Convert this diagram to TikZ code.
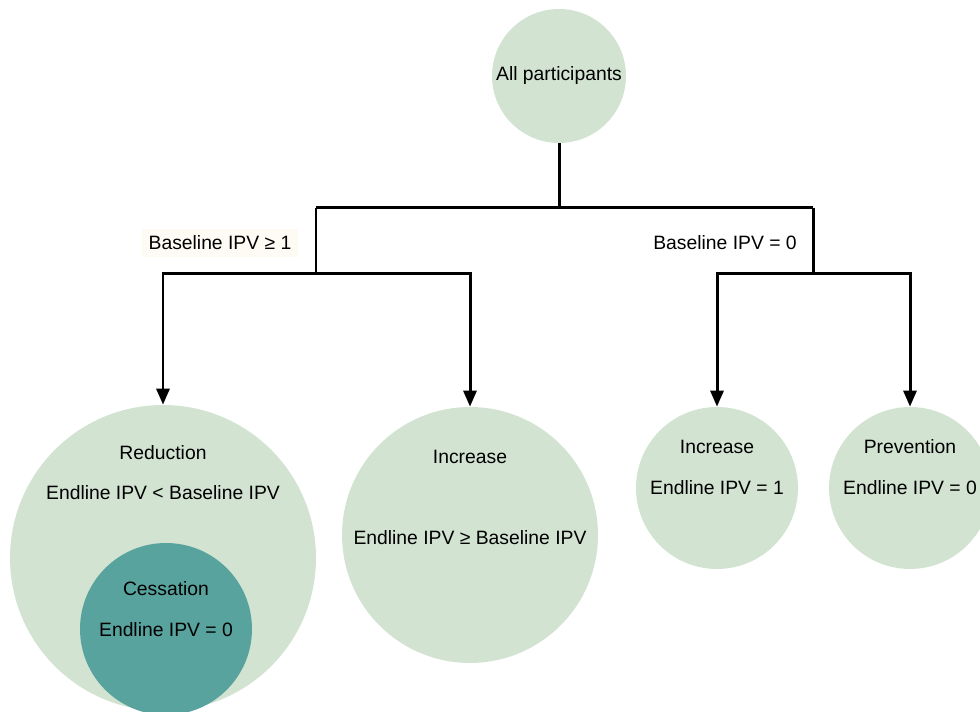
\documentclass[tikz,border=0pt]{standalone}
\usepackage{fontspec}
\setmainfont{Liberation Sans}
\usepackage{tikz}
\usetikzlibrary{arrows.meta,positioning,calc}
\definecolor{ipvlight}{HTML}{D2E3D2}
\definecolor{ipvteal}{HTML}{58A39E}
\definecolor{ipvcream}{HTML}{FDFBF3}
\tikzstyle{disc} = [circle, fill=ipvlight, inner sep=0pt]
\tikzstyle{lbl} = [font=\fontsize{11}{13}\selectfont, inner sep=1pt]
\tikzstyle{branch} = [line width=1.7pt, black]
\tikzstyle{arrow} = [-{Triangle[width=2.6mm,length=3.2mm]}, line width=1.7pt, black]

\begin{document}
\begin{tikzpicture}[x=0.02cm, y=0.02cm]
\useasboundingbox (0,0) rectangle (980,712);
\node[disc, minimum size=2.68cm] (all) at (559,636) {};
\node[disc, minimum size=6.12cm] (red) at (163,154) {};
\node[disc, minimum size=3.44cm, fill=ipvteal] (ces) at (166,83) {};
\node[disc, minimum size=5.12cm] (incb) at (470,177) {};
\node[disc, minimum size=3.24cm] (incz) at (717,224) {};
\node[disc, minimum size=3.24cm] (prev) at (910,224) {};

\node[lbl] (alltxt) at (all.center) {All participants};
\node[lbl] (redname) at ($(red.center)+(0,105)$) {Reduction};
\node[lbl] (redrule) at ($(red.center)+(0,65)$) {Endline IPV < Baseline IPV};
\node[lbl] (cesname) at ($(ces.center)+(0,40)$) {Cessation};
\node[lbl] (cesrule) at ($(ces.center)+(0,-1)$) {Endline IPV = 0};
\node[lbl] (incbname) at ($(incb.center)+(0,78)$) {Increase};
\node[lbl] (incbrule) at ($(incb.center)+(0,-3)$) {Endline IPV ≥ Baseline IPV};
\node[lbl] (inczname) at ($(incz.center)+(0,41)$) {Increase};
\node[lbl] (inczrule) at (incz.center) {Endline IPV = 1};
\node[lbl] (prevname) at ($(prev.center)+(0,41)$) {Prevention};
\node[lbl] (prevrule) at (prev.center) {Endline IPV = 0};

\coordinate (split) at (559,504);
\coordinate (posb) at (316,504);
\coordinate (zerob) at (813,504);
\coordinate (posj) at (316,438);
\coordinate (zeroj) at (813,438);

\node[lbl, fill=ipvcream, inner sep=4pt] (poslbl) at (220,469) {Baseline IPV ≥ 1};
\node[lbl] (zerolbl) at (725,469) {Baseline IPV = 0};

\draw[branch] (all.south) -- (split);
\draw[branch] (posb) -- (zerob);
\draw[branch] (posb) -- (posj);
\draw[branch] (zerob) -- (zeroj);

\draw[arrow] (posj) -| (red.north);
\draw[arrow] (posj) -| (incb.north);
\draw[arrow] (zeroj) -| (incz.north);
\draw[arrow] (zeroj) -| (prev.north);
\end{tikzpicture}
\end{document}
